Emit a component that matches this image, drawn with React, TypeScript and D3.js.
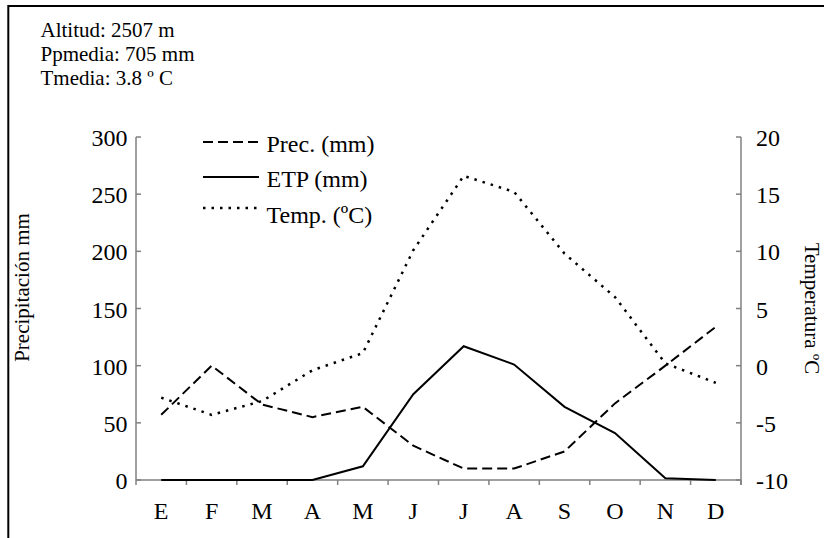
import React from 'react';
import * as d3 from 'd3';

// Monthly climate values (Spanish month initials)
const months = ['E', 'F', 'M', 'A', 'M', 'J', 'J', 'A', 'S', 'O', 'N', 'D'];
const precipitation = [57, 100, 66, 55, 64, 30, 10, 10, 25, 67, 100, 134];
const etp = [0, 0, 0, 0, 12, 75, 117, 101, 64, 41, 1.5, 0];
const temperature = [-2.8, -4.3, -3.1, -0.4, 1.1, 10.1, 16.6, 15.2, 9.8, 6.0, 0.2, -1.5];

const precTicks = [0, 50, 100, 150, 200, 250, 300];
const tempTicks = [-10, -5, 0, 5, 10, 15, 20];

const headerLines = ['Altitud: 2507 m', 'Ppmedia: 705 mm', 'Tmedia: 3.8 º C'];

const W = 824;
const H = 538;
const plot = { left: 136, right: 741, top: 137, bottom: 480 };
const FONT = '"Liberation Serif", "Times New Roman", serif';
const AXIS = '#808080';

export default function App() {
  const x = d3
    .scaleBand<number>()
    .domain(d3.range(months.length))
    .range([plot.left, plot.right])
    .padding(0);
  const yP = d3.scaleLinear().domain([0, 300]).range([plot.bottom, plot.top]);
  const yT = d3.scaleLinear().domain([-10, 20]).range([plot.bottom, plot.top]);
  const cx = (i: number) => (x(i) as number) + x.bandwidth() / 2;

  const precLine = d3
    .line<number>()
    .x((_, i) => cx(i))
    .y((d) => yP(d));
  const etpLine = d3
    .line<number>()
    .x((_, i) => cx(i))
    .y((d) => yP(d));
  const tempLine = d3
    .line<number>()
    .x((_, i) => cx(i))
    .y((d) => yT(d));

  const boundaries = d3.range(months.length + 1).map((i) => plot.left + i * x.step());

  const legend = [
    { label: 'Prec. (mm)', y: 142, ty: 151.5, dash: '10,5', width: 2 },
    { label: 'ETP (mm)', y: 177, ty: 186.5, dash: undefined, width: 2 },
    { label: 'Temp. (ºC)', y: 208, ty: 223, dash: '2.5,6', width: 2.5 },
  ];

  return (
    <svg
      width={W}
      height={H}
      style={{ position: 'absolute', left: 0, top: 0, background: '#fff' }}
      fontFamily={FONT}
    >
      <rect x={0} y={0} width={W} height={H} fill="#fff" />
      {/* outer frame */}
      <rect x={8.3} y={6} width={W + 20} height={H + 20} fill="none" stroke="#000" strokeWidth={2} />

      {/* station info */}
      {headerLines.map((t, i) => (
        <text key={i} x={40.5} y={36.5 + i * 24} fontSize={21} fill="#000">
          {t}
        </text>
      ))}

      {/* left axis */}
      <line x1={plot.left} x2={plot.left} y1={plot.top} y2={plot.bottom} stroke={AXIS} strokeWidth={1.5} />
      {precTicks.map((t) => (
        <g key={`p${t}`}>
          <line x1={plot.left} x2={plot.left + 5} y1={yP(t)} y2={yP(t)} stroke={AXIS} strokeWidth={1.5} />
          <text x={127.5} y={yP(t) + 9} fontSize={24} textAnchor="end" fill="#000">
            {t}
          </text>
        </g>
      ))}

      {/* right axis */}
      <line x1={plot.right} x2={plot.right} y1={plot.top} y2={plot.bottom + 5} stroke={AXIS} strokeWidth={1.5} />
      {tempTicks.map((t) => (
        <g key={`t${t}`}>
          <line x1={plot.right - 5} x2={plot.right} y1={yT(t)} y2={yT(t)} stroke={AXIS} strokeWidth={1.5} />
          <text x={756} y={yT(t) + 9} fontSize={24} fill="#000">
            {t}
          </text>
        </g>
      ))}

      {/* x axis */}
      <line x1={plot.left} x2={plot.right} y1={plot.bottom} y2={plot.bottom} stroke={AXIS} strokeWidth={1.5} />
      {boundaries.map((b, i) => (
        <line key={`b${i}`} x1={b} x2={b} y1={plot.bottom} y2={plot.bottom + 5} stroke={AXIS} strokeWidth={1.5} />
      ))}
      {months.map((m, i) => (
        <text key={`m${i}`} x={cx(i)} y={519} fontSize={24} textAnchor="middle" fill="#000">
          {m}
        </text>
      ))}

      {/* axis titles */}
      <text
        transform={`translate(29,287.5) rotate(-90)`}
        fontSize={21}
        textAnchor="middle"
        fill="#000"
      >
        Precipitación mm
      </text>
      <text
        transform={`translate(805,308.5) rotate(90)`}
        fontSize={21}
        textAnchor="middle"
        fill="#000"
      >
        Temperatura ºC
      </text>

      {/* series */}
      <path d={etpLine(etp) ?? ''} fill="none" stroke="#000" strokeWidth={2} />
      <path d={precLine(precipitation) ?? ''} fill="none" stroke="#000" strokeWidth={2} strokeDasharray="10,5" />
      <path d={tempLine(temperature) ?? ''} fill="none" stroke="#000" strokeWidth={2.5} strokeDasharray="2.5,6" />

      {/* legend */}
      {legend.map((l) => (
        <g key={l.label}>
          <line
            x1={203}
            x2={259}
            y1={l.y}
            y2={l.y}
            stroke="#000"
            strokeWidth={l.width}
            strokeDasharray={l.dash}
          />
          <text x={266.5} y={l.ty} fontSize={24} fill="#000">
            {l.label}
          </text>
        </g>
      ))}
    </svg>
  );
}
